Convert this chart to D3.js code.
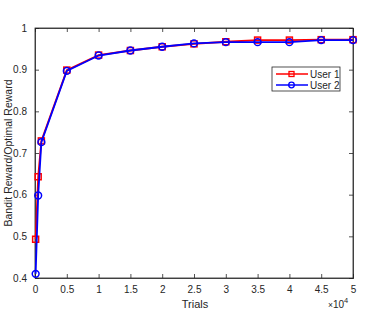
<!DOCTYPE html>
<html>
<head>
<meta charset="utf-8">
<script src="https://cdnjs.cloudflare.com/ajax/libs/d3/7.8.5/d3.min.js"></script>
<style>
  body { margin: 0; background: #fff; }
  svg { font-family: "Liberation Sans", Arial, sans-serif; }
</style>
</head>
<body>
<div id="chart"></div>
<script>
// data
var trials = [100, 500, 1000, 5000, 10000, 15000, 20000, 25000, 30000, 35000, 40000, 45000, 50000];
var user1 = [0.493, 0.643, 0.729, 0.899, 0.935, 0.946, 0.955, 0.962, 0.967, 0.971, 0.971, 0.972, 0.972];
var user2 = [0.410, 0.598, 0.726, 0.897, 0.934, 0.946, 0.955, 0.963, 0.966, 0.966, 0.966, 0.971, 0.971];
var xTicks = [0, 0.5, 1, 1.5, 2, 2.5, 3, 3.5, 4, 4.5, 5];
var yTicks = [0.4, 0.5, 0.6, 0.7, 0.8, 0.9, 1];
var seriesNames = ["User 1", "User 2"];

var width = 374, height = 318;
var margin = {top: 28, right: 21, bottom: 40, left: 35};

var svg = d3.select("#chart").append("svg")
  .attr("width", width)
  .attr("height", height);

var xScale = d3.scaleLinear().domain([0, 50000]).range([margin.left, width - margin.right]);
var yScale = d3.scaleLinear().domain([0.4, 1]).range([height - margin.bottom, margin.top]);

var axisColor = "#262626";
var tickLen = 4;

// box
svg.append("rect")
  .attr("x", margin.left)
  .attr("y", margin.top)
  .attr("width", xScale.range()[1] - margin.left)
  .attr("height", yScale.range()[0] - margin.top)
  .attr("fill", "white")
  .attr("stroke", axisColor)
  .attr("stroke-width", 0.8);

// x axis (ticks inward, mirrored on top)
var xb = svg.append("g")
  .attr("transform", "translate(0," + yScale(0.4) + ")")
  .call(d3.axisBottom(xScale).tickValues(xTicks.map(function(t) { return t * 10000; }))
    .tickFormat(function(d) { return d / 10000; })
    .tickSize(-tickLen).tickPadding(tickLen + 4));
var xt = svg.append("g")
  .attr("transform", "translate(0," + yScale(1) + ")")
  .call(d3.axisTop(xScale).tickValues(xTicks.map(function(t) { return t * 10000; }))
    .tickFormat("").tickSize(-tickLen));

var yl = svg.append("g")
  .attr("transform", "translate(" + margin.left + ",0)")
  .call(d3.axisLeft(yScale).tickValues(yTicks)
    .tickFormat(function(d) { return d === 1 ? "1" : d3.format(".1f")(d); })
    .tickSize(-tickLen).tickPadding(tickLen + 4));
var yr = svg.append("g")
  .attr("transform", "translate(" + xScale(50000) + ",0)")
  .call(d3.axisRight(yScale).tickValues(yTicks).tickFormat("").tickSize(-tickLen));

[xb, xt, yl, yr].forEach(function(g) {
  g.select(".domain").attr("stroke", axisColor).attr("stroke-width", 0.8);
  g.selectAll(".tick line").attr("stroke", axisColor).attr("stroke-width", 0.8);
  g.selectAll(".tick text").attr("fill", axisColor).style("font-size", "10px");
});

// lines
var colors = ["#ff0000", "#0000ff"];
var allSeries = [user1, user2];

var line = d3.line()
  .x(function(d, i) { return xScale(trials[i]); })
  .y(function(d) { return yScale(d); });

allSeries.forEach(function(vals, s) {
  svg.append("path")
    .datum(vals)
    .attr("d", line)
    .attr("fill", "none")
    .attr("stroke", colors[s])
    .attr("stroke-width", 1.8);

  if (s === 0) {
    svg.append("g").selectAll("rect")
      .data(vals)
      .enter()
      .append("rect")
      .attr("x", function(d, i) { return xScale(trials[i]) - 3; })
      .attr("y", function(d) { return yScale(d) - 3; })
      .attr("width", 6)
      .attr("height", 6)
      .attr("fill", "none")
      .attr("stroke", colors[s])
      .attr("stroke-width", 1.5);
  } else {
    svg.append("g").selectAll("circle")
      .data(vals)
      .enter()
      .append("circle")
      .attr("cx", function(d, i) { return xScale(trials[i]); })
      .attr("cy", function(d) { return yScale(d); })
      .attr("r", 3.4)
      .attr("fill", "none")
      .attr("stroke", colors[s])
      .attr("stroke-width", 1.5);
  }
});

// legend
var lg = svg.append("g").attr("transform", "translate(272,67)");
lg.append("rect")
  .attr("width", 68).attr("height", 24)
  .attr("fill", "white").attr("stroke", axisColor).attr("stroke-width", 0.8);
seriesNames.forEach(function(name, s) {
  var yy = 7 + s * 11;
  lg.append("line")
    .attr("x1", 4).attr("x2", 36).attr("y1", yy).attr("y2", yy)
    .attr("stroke", colors[s]).attr("stroke-width", 1.5);
  if (s === 0) {
    lg.append("rect").attr("x", 17).attr("y", yy - 2.5).attr("width", 5).attr("height", 5)
      .attr("fill", "none").attr("stroke", colors[s]).attr("stroke-width", 1.3);
  } else {
    lg.append("circle").attr("cx", 19.5).attr("cy", yy).attr("r", 2.8)
      .attr("fill", "none").attr("stroke", colors[s]).attr("stroke-width", 1.3);
  }
  lg.append("text")
    .attr("x", 38).attr("y", yy + 3.5)
    .attr("fill", axisColor)
    .style("font-size", "10px")
    .text(name);
});

// axis labels
svg.append("text")
  .attr("x", xScale(25000) + 1)
  .attr("y", 308)
  .attr("text-anchor", "middle")
  .attr("fill", axisColor)
  .style("font-size", "11px")
  .text("Trials");

svg.append("text")
  .attr("transform", "translate(12," + yScale(0.7) + ") rotate(-90)")
  .attr("text-anchor", "middle")
  .attr("fill", axisColor)
  .style("font-size", "10.5px")
  .text("Bandit Reward/Optimal Reward");

var expo = svg.append("text")
  .attr("x", 328)
  .attr("y", 308)
  .attr("fill", axisColor)
  .style("font-size", "10px");
expo.append("tspan").style("font-size", "8.5px").text("\u00d7");
expo.append("tspan").text("10");
expo.append("tspan").attr("dy", -5).style("font-size", "7.5px").text("4");
</script>
</body>
</html>
